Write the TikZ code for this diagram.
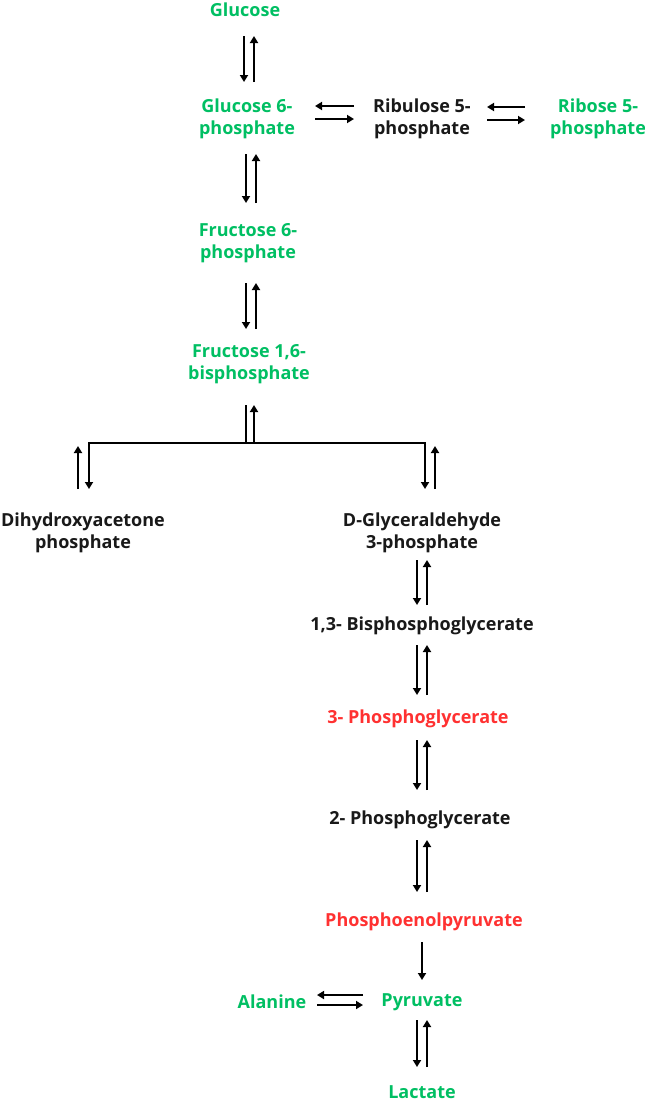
\documentclass[tikz,border=0pt]{standalone}
\usepackage{fontspec}
\setmainfont{Open Sans}
\usetikzlibrary{arrows.meta,calc}
\definecolor{cgreen}{HTML}{00BF63}
\definecolor{cred}{HTML}{FF3131}
\tikzset{
  lbl/.style={align=center, inner sep=0pt, font=\bfseries\fontsize{18}{22.5}\selectfont},
  grn/.style={lbl, text=cgreen},
  rd/.style={lbl, text=cred},
  bk/.style={lbl, text=black!90},
  arr/.style={line width=2pt, -{Triangle[length=7pt,width=8pt]}},
  ln/.style={line width=2pt},
}
\begin{document}
\begin{tikzpicture}[x=1pt,y=-1pt]
\useasboundingbox (0,0) rectangle (645,1103);
\fill[white] (0,0) rectangle (645,1103);
% nodes
\node[grn] (glc)   at (245,10)  {Glucose};
\node[grn] (g6p)   at (247,119) {Glucose 6-\\phosphate};
\node[bk]  (ru5p)  at (422,119) {Ribulose 5-\\phosphate};
\node[grn] (r5p)   at (598,119) {Ribose 5-\\phosphate};
\node[grn] (f6p)   at (248,243) {Fructose 6-\\phosphate};
\node[grn] (f16bp) at (249,364) {Fructose 1,6-\\bisphosphate};
\node[bk]  (dhap)  at (83,533)  {Dihydroxyacetone\\phosphate};
\node[bk]  (gap)   at (422,533) {D-Glyceraldehyde\\3-phosphate};
\node[bk]  (bpg)   at (422,626) {1,3- Bisphosphoglycerate};
\node[rd]  (pg3)   at (418,719) {3- Phosphoglycerate};
\node[bk]  (pg2)   at (420,820) {2- Phosphoglycerate};
\node[rd]  (pep)   at (424,922) {Phosphoenolpyruvate};
\node[grn] (pyr)   at (422,1002) {Pyruvate};
\node[grn] (ala)   at (272,1002) {Alanine};
\node[grn] (lac)   at (422,1092) {Lactate};
% glucose <-> G6P
\draw[arr] ($(glc)+(-1,26)$) -- ($(g6p)+(-3,-37)$);
\draw[arr] ($(g6p)+(7,-37)$) -- ($(glc)+(9,26)$);
% G6P <-> Ru5P
\draw[arr] ($(g6p)+(68,0)$) -- ($(ru5p)+(-68,0)$);
\draw[arr] ($(ru5p)+(-68,-13)$) -- ($(g6p)+(68,-13)$);
% Ru5P <-> R5P
\draw[arr] ($(ru5p)+(65,1)$) -- ($(r5p)+(-73,1)$);
\draw[arr] ($(r5p)+(-73,-12)$) -- ($(ru5p)+(65,-12)$);
% G6P <-> F6P
\draw[arr] ($(g6p)+(-1,35)$) -- ($(f6p)+(-2,-40)$);
\draw[arr] ($(f6p)+(8,-40)$) -- ($(g6p)+(9,35)$);
% F6P <-> F16BP
\draw[arr] ($(f6p)+(-2,40)$) -- ($(f16bp)+(-3,-35)$);
\draw[arr] ($(f16bp)+(7,-35)$) -- ($(f6p)+(8,40)$);
% branch
\coordinate (stem) at (246,443);
\draw[ln] ($(f16bp)+(-3,41)$) -- (stem);
\draw[arr] ($(stem)+(8,0)$) -- ($(f16bp)+(5,41)$);
\draw[arr] (stem) -| ($(dhap)+(6,-44)$);
\draw[arr] (stem) -| ($(gap)+(3,-44)$);
\draw[arr] ($(dhap)+(-5,-44)$) -- ($(dhap)+(-5,-87)$);
\draw[arr] ($(gap)+(13,-44)$) -- ($(gap)+(13,-87)$);
% GAP <-> 1,3BPG
\draw[arr] ($(gap)+(-5,27)$) -- ($(bpg)+(-5,-21)$);
\draw[arr] ($(bpg)+(5,-21)$) -- ($(gap)+(5,27)$);
% 1,3BPG <-> 3PG
\draw[arr] ($(bpg)+(-5,19)$) -- ($(pg3)+(-1,-24)$);
\draw[arr] ($(pg3)+(9,-24)$) -- ($(bpg)+(5,19)$);
% 3PG <-> 2PG
\draw[arr] ($(pg3)+(-1,21)$) -- ($(pg2)+(-3,-30)$);
\draw[arr] ($(pg2)+(7,-30)$) -- ($(pg3)+(9,21)$);
% 2PG <-> PEP
\draw[arr] ($(pg2)+(-3,20)$) -- ($(pep)+(-7,-30)$);
\draw[arr] ($(pep)+(3,-30)$) -- ($(pg2)+(7,20)$);
% PEP -> Pyruvate
\draw[arr] ($(pep)+(-2,20)$) -- ($(pyr)+(0,-22)$);
% Pyruvate <-> Lactate
\draw[arr] ($(pyr)+(-5,18)$) -- ($(lac)+(-5,-25)$);
\draw[arr] ($(lac)+(5,-25)$) -- ($(pyr)+(5,18)$);
% Alanine <-> Pyruvate
\draw[arr] ($(ala)+(45,3)$) -- ($(pyr)+(-59,3)$);
\draw[arr] ($(pyr)+(-59,-7)$) -- ($(ala)+(45,-7)$);
\end{tikzpicture}
\end{document}
